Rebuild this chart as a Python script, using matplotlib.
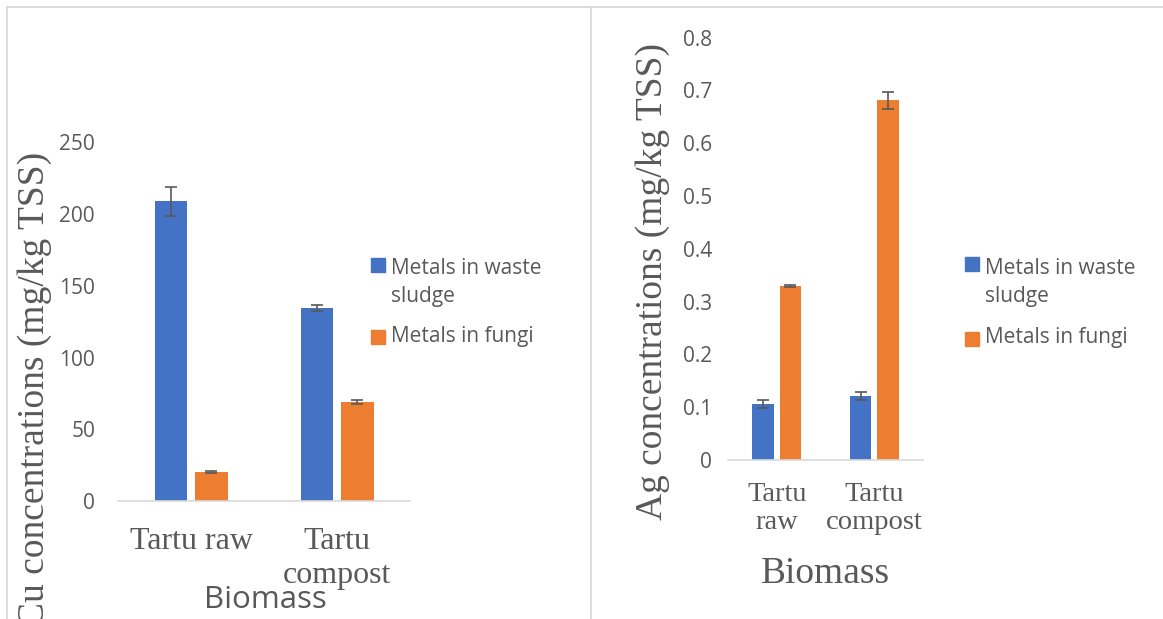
import matplotlib
matplotlib.use("Agg")
import matplotlib.pyplot as plt
from matplotlib.patches import Rectangle
from matplotlib.lines import Line2D
import numpy as np

# ---------------- data ----------------
categories_cu = ["Tartu raw", "Tartu\ncompost"]
categories_ag = ["Tartu\nraw", "Tartu\ncompost"]
series_names = ["Metals in waste\nsludge", "Metals in fungi"]

cu_sludge = [209.0, 134.5]
cu_sludge_err = [10.0, 2.3]
cu_fungi = [20.1, 68.8]
cu_fungi_err = [0.6, 1.3]

ag_sludge = [0.106, 0.121]
ag_sludge_err = [0.008, 0.008]
ag_fungi = [0.330, 0.681]
ag_fungi_err = [0.002, 0.016]

cu_ticks = [0, 50, 100, 150, 200, 250]
cu_tick_labels = ["0", "50", "100", "150", "200", "250"]
ag_ticks = [0, 0.1, 0.2, 0.3, 0.4, 0.5, 0.6, 0.7, 0.8]
ag_tick_labels = ["0", "0.1", "0.2", "0.3", "0.4", "0.5", "0.6", "0.7", "0.8"]

# ---------------- style ----------------
BLUE = "#4472C4"
ORANGE = "#ED7D31"
TXT = "#595959"
GRID = "#D9D9D9"
ERR = "#595959"
SANS = "Open Sans"
SERIF = "Liberation Serif"

W, H = 1163, 619
fig = plt.figure(figsize=(W / 100, H / 100), dpi=100)


def fx(x):
    return x / W


def fy(y):
    return 1 - y / H


def panel(ax, cats, s1, e1, s2, e2, ticks, tlabels, ymax, tick_pad, cat_size, cat_pad, linesp):
    x = np.arange(len(cats))
    w = 0.22
    off = 0.14
    ax.bar(x - off, s1, w, color=BLUE, zorder=2)
    ax.bar(x + off, s2, w, color=ORANGE, zorder=2)
    ekw = dict(fmt="none", ecolor=ERR, elinewidth=1.2, capsize=4.4, capthick=1.2, zorder=3)
    ax.errorbar(x - off, s1, yerr=e1, **ekw)
    ax.errorbar(x + off, s2, yerr=e2, **ekw)
    ax.set_xlim(-0.5, len(cats) - 0.5)
    ax.set_ylim(0, ymax)
    ax.set_yticks(ticks)
    ax.set_yticklabels(tlabels, fontfamily=SANS, fontsize=15, color=TXT)
    ax.set_xticks(x)
    ax.set_xticklabels(cats, fontfamily=SERIF, fontsize=cat_size, color=TXT,
                       linespacing=linesp)
    ax.tick_params(axis="y", length=0, pad=tick_pad)
    ax.tick_params(axis="x", length=0, pad=cat_pad)
    for s in ["top", "right", "left"]:
        ax.spines[s].set_visible(False)
    ax.spines["bottom"].set_color(GRID)
    ax.spines["bottom"].set_linewidth(1.2)
    ax.set_facecolor("none")


ax1 = fig.add_axes([fx(118), fy(501), (410 - 118) / W, (501 - 142.5) / H])
panel(ax1, categories_cu, cu_sludge, cu_sludge_err, cu_fungi, cu_fungi_err,
      cu_ticks, cu_tick_labels, 250, 16.5, 23, 19, 1.22)

ax2 = fig.add_axes([fx(728), fy(460), (923 - 728) / W, (460 - 37.5) / H])
panel(ax2, categories_ag, ag_sludge, ag_sludge_err, ag_fungi, ag_fungi_err,
      ag_ticks, ag_tick_labels, 0.8, 11.5, 20.5, 15.5, 1.2)

# axis titles
fig.text(fx(35), fy(389), "Cu concentrations (mg/kg TSS)", rotation=90,
         ha="center", va="center", fontfamily=SERIF, fontsize=27, color=TXT)
fig.text(fx(653), fy(282), "Ag concentrations (mg/kg TSS)", rotation=90,
         ha="center", va="center", fontfamily=SERIF, fontsize=27, color=TXT)
fig.text(fx(265), fy(608), "Biomass", ha="center", va="baseline",
         fontfamily=SANS, fontsize=22.5, color=TXT)
fig.text(fx(825), fy(583), "Biomass", ha="center", va="baseline",
         fontfamily=SERIF, fontsize=27, color=TXT)

# legends (drawn manually to match layout)
def legend(x_sq, y1, y2, x_txt, b1, b3):
    for y, c in [(y1, BLUE), (y2, ORANGE)]:
        fig.patches.append(Rectangle((fx(x_sq), fy(y + 14)), 14 / W, 14 / H,
                                     transform=fig.transFigure, color=c))
    fig.text(fx(x_txt), fy(b1), series_names[0], ha="left", va="baseline",
             fontfamily=SANS, fontsize=15, color=TXT, linespacing=1.45)
    fig.text(fx(x_txt), fy(b3), series_names[1], ha="left", va="baseline",
             fontfamily=SANS, fontsize=15, color=TXT)

legend(371, 258, 330, 391, 302, 342)
legend(965, 257, 332, 985, 302, 343)

# panel borders
for (xs, ys) in [([7, W], [7, 7]), ([7, 7], [7, H]), ([591, 591], [7, H])]:
    fig.lines.append(Line2D([fx(v) for v in xs], [fy(v) for v in ys],
                            transform=fig.transFigure, color=GRID, linewidth=1.3))

fig.savefig("out.png", dpi=100)
